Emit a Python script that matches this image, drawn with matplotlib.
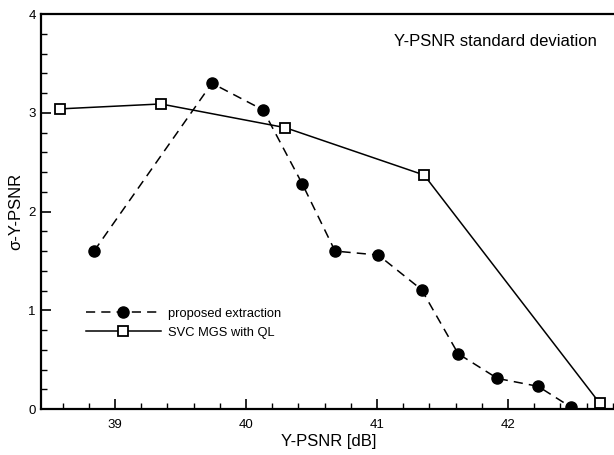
import matplotlib
matplotlib.use('Agg')
import matplotlib.pyplot as plt
from matplotlib.ticker import MultipleLocator

plt.rcParams['font.family'] = ['Liberation Sans', 'DejaVu Sans']

# proposed extraction
prop_x = [38.84, 39.74, 40.13, 40.43, 40.68, 41.01, 41.34, 41.62, 41.92, 42.23, 42.48]
prop_y = [1.60, 3.30, 3.03, 2.28, 1.60, 1.56, 1.21, 0.56, 0.31, 0.23, 0.02]

# SVC MGS with QL
svc_x = [38.58, 39.35, 40.30, 41.36, 42.70]
svc_y = [3.04, 3.09, 2.85, 2.37, 0.06]

fig = plt.figure(figsize=(6.14, 4.55), dpi=100)
# right edge runs just past the picture, as in the original
ax = fig.add_axes([0.0663, 0.101, 0.937, 0.868])

ax.plot(prop_x, prop_y, color='black', linestyle=(0, (6, 4)), linewidth=1.1,
        marker='o', markersize=8, markerfacecolor='black', markeredgecolor='black',
        label='proposed extraction')
ax.plot(svc_x, svc_y, color='black', linestyle='-', linewidth=1.1,
        marker='s', markersize=7.5, markerfacecolor='white', markeredgecolor='black',
        markeredgewidth=1.3, label='SVC MGS with QL')

ax.set_xlim(38.433, 42.825)
ax.set_ylim(0, 4)
ax.xaxis.set_major_locator(MultipleLocator(1))
ax.xaxis.set_minor_locator(MultipleLocator(0.2))
ax.yaxis.set_major_locator(MultipleLocator(1))
ax.yaxis.set_minor_locator(MultipleLocator(0.2))
ax.tick_params(which='major', direction='in', length=7, width=1.2, labelsize=9.5)
ax.tick_params(axis='x', which='major', pad=7)
ax.tick_params(which='minor', direction='in', length=4, width=1.0)
for s in ax.spines.values():
    s.set_linewidth(1.6)

ax.set_xlabel('Y-PSNR [dB]', fontsize=12, labelpad=2)
ax.set_ylabel('σ-Y-PSNR', fontsize=12, labelpad=4)

ax.text(0.966, 0.93, 'Y-PSNR standard deviation', transform=ax.transAxes,
        ha='right', va='center', fontsize=12)

ax.legend(loc='lower left', bbox_to_anchor=(0.058, 0.148), frameon=False,
          fontsize=9.3, handlelength=5.8, handletextpad=0.6, labelspacing=0.55)

fig.savefig('out.png', dpi=100)
